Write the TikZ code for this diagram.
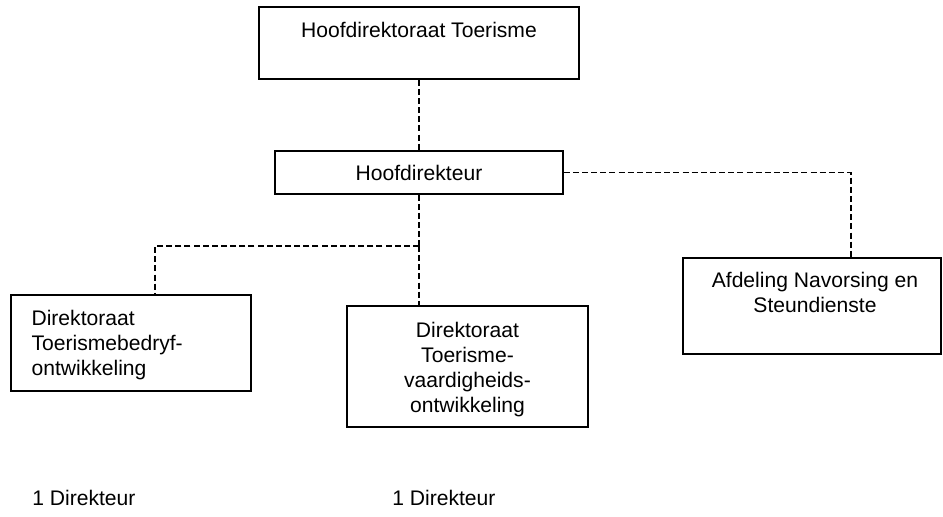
\documentclass[tikz,border=0pt]{standalone}
\usepackage{fontspec}
\setmainfont{Liberation Sans}
\usetikzlibrary{positioning}
\newcommand{\orgfont}{\fontsize{15}{17.8}\selectfont}

\begin{document}
\begin{tikzpicture}[x=0.025cm, y=-0.025cm, node distance=0.4cm,
  box/.style={draw, line width=1pt, rectangle, inner sep=0pt, font=\orgfont},
  txt/.style={inner sep=0pt, font=\orgfont},
  link/.style={line width=0.9pt, dash pattern=on 4.3pt off 2.2pt}]

\useasboundingbox (0,0) rectangle (943,516);

% boxes
\node [box, minimum width=8cm, minimum height=1.8cm] (hdt) at (419,43) {};
\node [txt, below=0.4cm of hdt.north] (hdtt) {Hoofdirektoraat Toerisme};

\node [box, minimum width=7.2cm, minimum height=1.075cm] (hd) at (419,172.5) {Hoofdirekteur};

\node [box, minimum width=6cm, minimum height=2.4cm] (dtb) at (131,343) {};
\node [txt, align=left, below right=0.4cm and 0.525cm of dtb.north west] (dtbt) {Direktoraat\\Toerismebedryf-\\ontwikkeling};

\node [box, minimum width=6.025cm, minimum height=3.025cm] (dtv) at (467.5,366.5) {};
\node [txt, align=center, below=0.425cm of dtv.north] (dtvt) {Direktoraat\\Toerisme-\\vaardigheids-\\ontwikkeling};

\node [box, minimum width=6.45cm, minimum height=2.4cm] (ans) at (812,306) {};
\node [txt, align=center, below=0.375cm of ans.north, xshift=0.075cm] (anst) {Afdeling Navorsing en\\Steundienste};

% dashed links
\coordinate (split) at (419,246);
\draw [link] (hdt.south) -- (hd.north);
\draw [link] (hd.south) -- (split);
\draw [link] (split) -| ([xshift=0.6cm]dtb.north);
\draw [link] (split) -- (split |- dtv.north);
\draw [link] (hd.east) -| ([xshift=0.975cm]ans.north);

\node [txt, anchor=north west] (dir1) at (32,490) {1 Direkteur};
\node [txt, anchor=north west] (dir2) at (392,490) {1 Direkteur};

\end{tikzpicture}
\end{document}
